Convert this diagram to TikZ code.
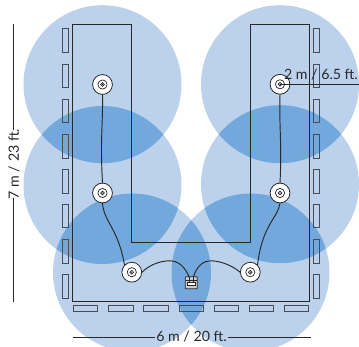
\documentclass[tikz,border=0pt]{standalone}
\usepackage{fontspec}
\setmainfont{Lato}
\definecolor{zone}{RGB}{188,210,236}
\definecolor{overlap}{RGB}{114,168,220}
\definecolor{ink}{RGB}{40,40,42}
\definecolor{wallgrey}{RGB}{72,76,84}
\tikzset{
  wall/.style={draw=ink,line width=1pt,line join=miter},
  vpane/.style={draw=wallgrey,line width=1pt,inner sep=0pt,minimum width=6.2pt,minimum height=23.6pt,rectangle},
  hpane/.style={draw=wallgrey,line width=1pt,inner sep=0pt,minimum width=24.2pt,minimum height=6.2pt,rectangle},
  speaker/.style={circle,draw=ink,line width=0.8pt,fill=white,minimum size=19.8pt,inner sep=0pt},
  wire/.style={draw=ink,line width=0.95pt,line cap=round},
  dim/.style={draw=ink,line width=0.9pt},
  lbl/.style={font=\fontsize{14.2}{16}\selectfont,text=ink,inner sep=0pt}
}
\newcommand{\zonecircle}[1]{(#1) circle[radius=79pt]}
\newcommand{\lens}[2]{\begin{scope}\clip \zonecircle{#1};\fill[overlap] \zonecircle{#2};\end{scope}}
\newcommand{\spk}[2]{%
  \node[speaker] (#1) at (#2) {};
  \draw[ink,line width=0.7pt] (#2) circle[radius=4.6pt];
  \draw[ink,line width=0.7pt] (#2) circle[radius=1.9pt];
  \fill[ink] (#2) circle[radius=0.7pt];
}
\begin{document}
\begin{tikzpicture}[x=1pt,y=-1pt]
\useasboundingbox (0,0) rectangle (359,347);
\begin{scope}
\clip (0,0) rectangle (359,347);
\coordinate (zA) at (102.5,84.2);
\coordinate (zB) at (102.5,185);
\coordinate (zC) at (132,272.5);
\coordinate (zD) at (250.5,272.5);
\coordinate (zE) at (280,84.2);
\coordinate (zF) at (280,184.2);
\foreach \c in {zA,zB,zC,zD,zE,zF} \fill[zone] \zonecircle{\c};
\lens{zA}{zB}
\lens{zE}{zF}
\lens{zB}{zC}
\lens{zF}{zD}
\lens{zC}{zD}
\end{scope}
% room
\draw[wall] (72.5,25) -- (131.7,25) -- (131.7,242.6) -- (250.3,242.6) -- (250.3,25) -- (309.6,25) -- (309.6,301.8) -- (72.5,301.8) -- cycle;
% windows
\foreach \i/\y in {1/40.8,2/76,3/111.2,4/146.4,5/181.6,6/216.2,7/251.4,8/286.6}{
  \node[vpane] (wl\i) at (65.4,\y) {};
  \node[vpane] (wr\i) at (316.5,\y) {};
}
\foreach \i/\x in {1/85.8,2/120.9,3/156,4/191.2,5/226.3,6/261.5,7/296.4}{
  \node[hpane] (wb\i) at (\x,308.9) {};
}
% hub box
\node[draw=ink,line width=0.8pt,fill=white!80!black,rounded corners=0.8pt,minimum width=12pt,minimum height=12pt,inner sep=0pt] (hub) at (191.3,282.8) {};
\draw[ink,line width=0.7pt,fill=white] (187.4,282) rectangle (195.2,285.6);
\draw[ink,line width=0.7pt] (185.6,280.2) -- (197,280.2);
\draw[ink,line width=0.7pt] (189.2,277) -- (189.2,282);
\draw[ink,line width=0.7pt] (193.4,277) -- (193.4,282);
% speakers
\spk{sA}{102.5,84.5}
\spk{sB}{102.5,193}
\spk{sC}{131.8,272.2}
\spk{sD}{250.3,272.2}
\spk{sE}{280,84.3}
\spk{sF}{280,193}
% wires
\draw[wire] (sA.south) .. controls (103,125) and (100,140) .. (sB.north);
\draw[wire] (sB.south) .. controls (104,222) and (118,228) .. (sC.north west);
\draw[wire] (sC.east) .. controls (150,264) and (163,260) .. (172,261) .. controls (182,262) and (187,272) .. (189.2,277);
\draw[wire] (sD.west) .. controls (232,265) and (218,260) .. (209,261) .. controls (199,262) and (195,272) .. (193.4,277);
\draw[wire] (sF.south) .. controls (278,218) and (262,225) .. (sD.north east);
\draw[wire] (sE.south) .. controls (279,125) and (282,145) .. (sF.north);
% dimensions
\coordinate (dT) at (13,24.5);
\coordinate (dB) at (13,302);
\node[lbl,rotate=90] (hl) at (14,164) {7 m / 23 ft.};
\draw[dim] (dT) -- ([yshift=-1.5pt]hl.east -| dT);
\draw[dim] ([yshift=1.5pt]hl.west -| dT) -- (dB);
\coordinate (wL) at (72.5,337);
\coordinate (wR) at (310.5,337);
\node[lbl] (wl) at (191.5,337) {6 m / 20 ft.};
\draw[dim] (wL) -- ([xshift=-1.5pt]wl.west);
\draw[dim] ([xshift=1.5pt]wl.east) -- (wR);
\coordinate (rE) at (359,84.3);
\draw[ink,line width=1.5pt] (sE.center) -- (rE);
\node[lbl,anchor=east] (rl) at (358,75) {2 m / 6.5 ft.};
\end{tikzpicture}
\end{document}
